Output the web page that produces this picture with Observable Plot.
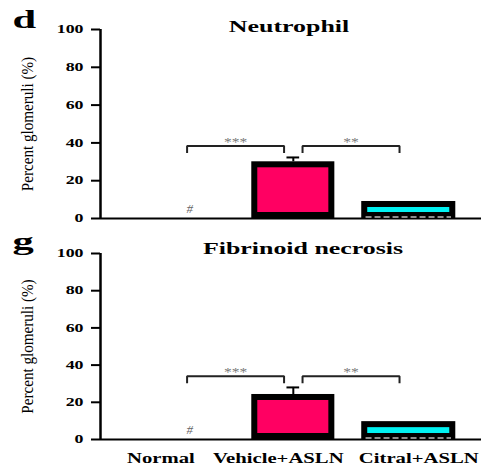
<!DOCTYPE html>
<html><head><meta charset="utf-8">
<script src="https://cdn.jsdelivr.net/npm/d3@7"></script>
<script src="https://cdn.jsdelivr.net/npm/@observablehq/plot@0.6"></script>
<style>
body{margin:0;background:#fff;}
#chart{width:481px;height:465px;overflow:hidden;}
svg{display:block;}
</style></head><body><div id="chart"></div>
<script>
// ---- data ----
const categories = ["Normal", "Vehicle+ASLN", "Citral+ASLN"];
const panelLetters = ["d", "g"];
const panelTitles = ["Neutrophil", "Fibrinoid necrosis"];
const neutrophilMean = [0, 30, 9];
const neutrophilSEM = [0, 2.3, 0];
const fibrinoidMean = [0, 24.2, 9.6];
const fibrinoidSEM = [0, 3.8, 0];
const normalMarks = ["#", "", ""];
const compareFrom = ["Normal", "Vehicle+ASLN"];
const compareTo = ["Vehicle+ASLN", "Citral+ASLN"];
const compareLabels = ["***", "**"];
const yTicks = [0, 20, 40, 60, 80, 100];
const yLabel = "Percent glomeruli (%)";

// ---- styles ----
const barFill = {"Vehicle+ASLN": "#ff0062", "Citral+ASLN": "#00f2f2"};
const barInset = {"Vehicle+ASLN": 19.2, "Citral+ASLN": 13.7};
const xLabelDx = [-17, -15, 10];
const xDomain = [-0.67, 2.63];
const font = "Liberation Serif, Times New Roman, serif";

const panels = [
  {letter: panelLetters[0], title: panelTitles[0], mean: neutrophilMean, sem: neutrophilSEM,
   height: 230, mt: 29, mb: 12, showX: false, titleDx: -2, titleDy: 2, letterDy: -2},
  {letter: panelLetters[1], title: panelTitles[1], mean: fibrinoidMean, sem: fibrinoidSEM,
   height: 235, mt: 23, mb: 26, showX: true, titleDx: 12, titleDy: 0, letterDy: -4}
];

function stretch(svg, match, sx) {
  d3.select(svg).selectAll("text").filter(function(){ return match(this.textContent); }).each(function(){
    const t = this.getAttribute("transform") || "";
    const x = +(this.getAttribute("x") || 0);
    this.setAttribute("transform", `${t} translate(${x},0) scale(${sx},1) translate(${-x},0)`);
  });
}

function panel(p) {
  const rows = categories.map((c, i) => ({cat: c, i, mean: p.mean[i], sem: p.sem[i], top: p.mean[i] + p.sem[i], mark: normalMarks[i]}));
  const idx = c => categories.indexOf(c);
  const brackets = [], stars = [];
  compareFrom.forEach((f, k) => {
    const a = idx(f), b = idx(compareTo[k]);
    const level = Math.max(rows[a].top, rows[b].top) + 6;
    const s = 0.08, t = 3.7;
    brackets.push({k, x: a + s, y: level - t}, {k, x: a + s, y: level}, {k, x: b - s, y: level}, {k, x: b - s, y: level - t});
    stars.push({x: (a + b) / 2, y: level, label: compareLabels[k]});
  });
  const marks = [];
  for (const c of ["Vehicle+ASLN", "Citral+ASLN"]) {
    marks.push(Plot.rect(rows.filter(d => d.cat === c && d.mean > 0), {
      x1: d => d.i - 0.5, x2: d => d.i + 0.5, y1: 0, y2: "mean",
      fill: barFill[c], stroke: "black", strokeWidth: 6,
      insetLeft: barInset[c], insetRight: barInset[c], insetTop: 3, insetBottom: 3
    }));
  }
  marks.push(Plot.ruleY([0], {stroke: "black", strokeWidth: 2}));
  marks.push(Plot.ruleY(rows.filter(d => d.cat === "Citral+ASLN"), {
    y: 0, x1: d => d.i - 0.37, x2: d => d.i + 0.37, dy: -1.5, stroke: "#bbb", strokeWidth: 1.3, strokeDasharray: "6 3"
  }));
  marks.push(Plot.ruleX([xDomain[0]], {y1: 0, y2: 100, stroke: "black", strokeWidth: 2.5}));
  const err = rows.filter(d => d.sem > 0);
  marks.push(Plot.ruleX(err, {x: "i", y1: "mean", y2: "top", stroke: "black", strokeWidth: 2}));
  marks.push(Plot.ruleY(err, {y: "top", x1: d => d.i - 0.055, x2: d => d.i + 0.055, stroke: "black", strokeWidth: 2}));
  marks.push(Plot.line(brackets, {x: "x", y: "y", z: "k", stroke: "#222", strokeWidth: 2, strokeLinejoin: "miter", strokeLinecap: "butt"}));
  marks.push(Plot.text(stars, {x: "x", y: "y", text: "label", dy: 0, lineAnchor: "bottom", fontSize: 12, fill: "#7a7a7a"}));
  marks.push(Plot.text(rows.filter(d => d.mark), {x: "i", y: 0, text: "mark", dx: 12, dy: -6, lineAnchor: "bottom", fontStyle: "italic", fontSize: 13, fill: "#666"}));
  marks.push(Plot.axisY({ticks: yTicks, tickSize: 9, tickPadding: 8, strokeWidth: 2, fontSize: 11.5, fontWeight: "bold", label: null}));
  marks.push(Plot.text([yLabel], {text: d => d, frameAnchor: "left", textAnchor: "middle", lineAnchor: "middle", rotate: -90, dx: -73, fontSize: 17, fill: "black"}));
  marks.push(Plot.text([p.title], {text: d => d, frameAnchor: "top", textAnchor: "middle", dx: p.titleDx, dy: p.titleDy, lineAnchor: "bottom", fontWeight: "bold", fontSize: 16}));
  marks.push(Plot.text([p.letter], {text: d => d, frameAnchor: "top-left", textAnchor: "start", dx: -88, dy: p.letterDy, lineAnchor: "bottom", fontWeight: "bold", fontSize: 25}));
  if (p.showX) {
    rows.forEach((r, k) => {
      marks.push(Plot.text([r], {x: "i", text: "cat", frameAnchor: "bottom", dy: 23, dx: xLabelDx[k], lineAnchor: "bottom", fontWeight: "bold", fontSize: 15}));
    });
  }
  const svg = Plot.plot({
    width: 481, height: p.height,
    marginLeft: 100, marginRight: 0, marginTop: p.mt, marginBottom: p.mb,
    x: {type: "linear", domain: xDomain, axis: null},
    y: {domain: [0, 100], axis: null},
    style: {fontFamily: font, background: "white", color: "black", overflow: "visible"},
    marks
  });
  stretch(svg, s => s === p.title, 1.62);
  stretch(svg, s => s === p.letter, 1.7);
  stretch(svg, s => yTicks.map(String).includes(s), 1.55);
  stretch(svg, s => s === yLabel, 0.89);
  stretch(svg, s => categories.includes(s), 1.38);
  stretch(svg, s => compareLabels.includes(s), 1.3);
  return svg;
}

const root = document.getElementById("chart");
panels.forEach(p => root.appendChild(panel(p)));
</script></body></html>
